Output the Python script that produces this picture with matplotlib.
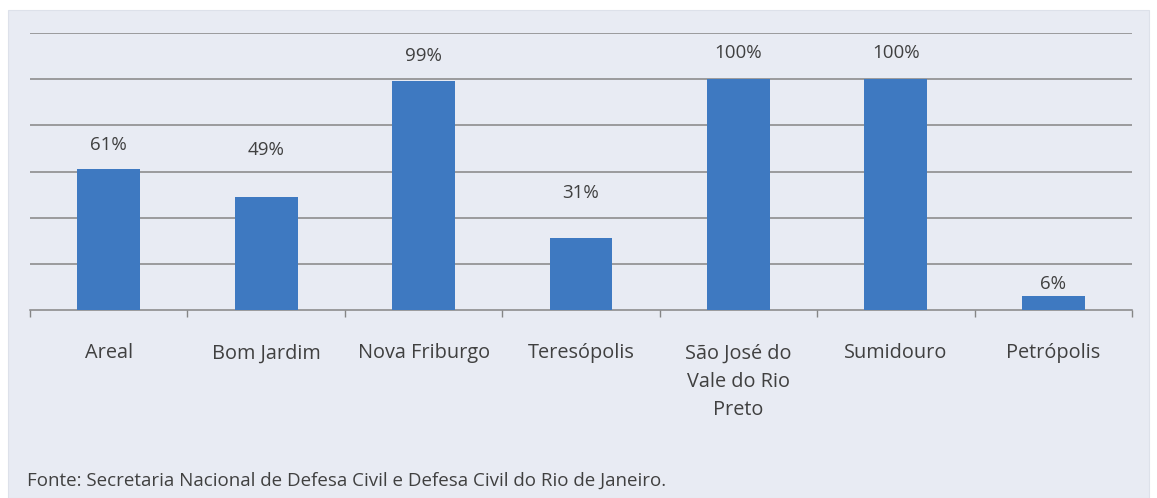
import matplotlib
matplotlib.use('Agg')
import matplotlib.pyplot as plt
import numpy as np

# valores do gráfico
municipios = ['Areal', 'Bom Jardim', 'Nova Friburgo', 'Teresópolis',
              'São José do\nVale do Rio\nPreto', 'Sumidouro', 'Petrópolis']
percentual = [61, 49, 99, 31, 100, 100, 6]
rotulos = ['61%', '49%', '99%', '31%', '100%', '100%', '6%']
fonte = 'Fonte: Secretaria Nacional de Defesa Civil e Defesa Civil do Rio de Janeiro.'

bg = '#e8ebf3'
bar_color = '#3e79c1'
txt_color = '#404040'
grid_color = '#858585'
plt.rcParams['font.family'] = ['Open Sans', 'DejaVu Sans']

fig = plt.figure(figsize=(11.57, 4.98), dpi=100)
fig.patch.set_facecolor('white')
fig.patches.append(plt.Rectangle((8 / 1157, 0), 1 - 8 / 1157 - 8 / 1157, 1 - 10 / 498,
                                 transform=fig.transFigure, facecolor=bg,
                                 edgecolor='#dde1ea', lw=0.8, zorder=-5))

ax = fig.add_axes([30 / 1157, 1 - 310 / 498, (1132 - 30) / 1157, (310 - 33) / 498])
ax.set_facecolor('none')
ax.set_zorder(2)

x = np.arange(len(municipios))
ax.bar(x, percentual, width=0.4, color=bar_color, zorder=3)
# rótulos colocados à mão no original, distância acima da barra (pt)
gap = [17.5, 34, 18.5, 33, 18.5, 18.5, 9]
for xi, v, lab, g in zip(x, percentual, rotulos, gap):
    ax.annotate(lab, (xi, v), xytext=(0, g), textcoords='offset points',
                ha='center', va='center', fontsize=13.5, color=txt_color)

ax.set_xlim(-0.5, len(municipios) - 0.5)
ax.set_ylim(0, 120)
ax.set_yticks(np.arange(20, 121, 20))
ax.yaxis.grid(True, color=grid_color, lw=1.1, zorder=1)
ax.tick_params(axis='y', length=0, labelleft=False)

ax.set_xticks(x)
ax.set_xticklabels(municipios, fontsize=14.3, color=txt_color, linespacing=1.56, va='top')
ax.set_xticks(np.arange(-0.5, len(municipios), 1), minor=True)
ax.tick_params(axis='x', which='major', length=0, pad=24)
ax.tick_params(axis='x', which='minor', length=5, color=grid_color, width=1)

for s in ['top', 'right', 'left']:
    ax.spines[s].set_visible(False)
ax.spines['bottom'].set_color(grid_color)
ax.spines['bottom'].set_linewidth(1.1)

fig.text(27 / 1157, 1 - 481 / 498, fonte, fontsize=13.5, color=txt_color,
         ha='left', va='center')

fig.savefig('out.png', dpi=100, facecolor='white')
